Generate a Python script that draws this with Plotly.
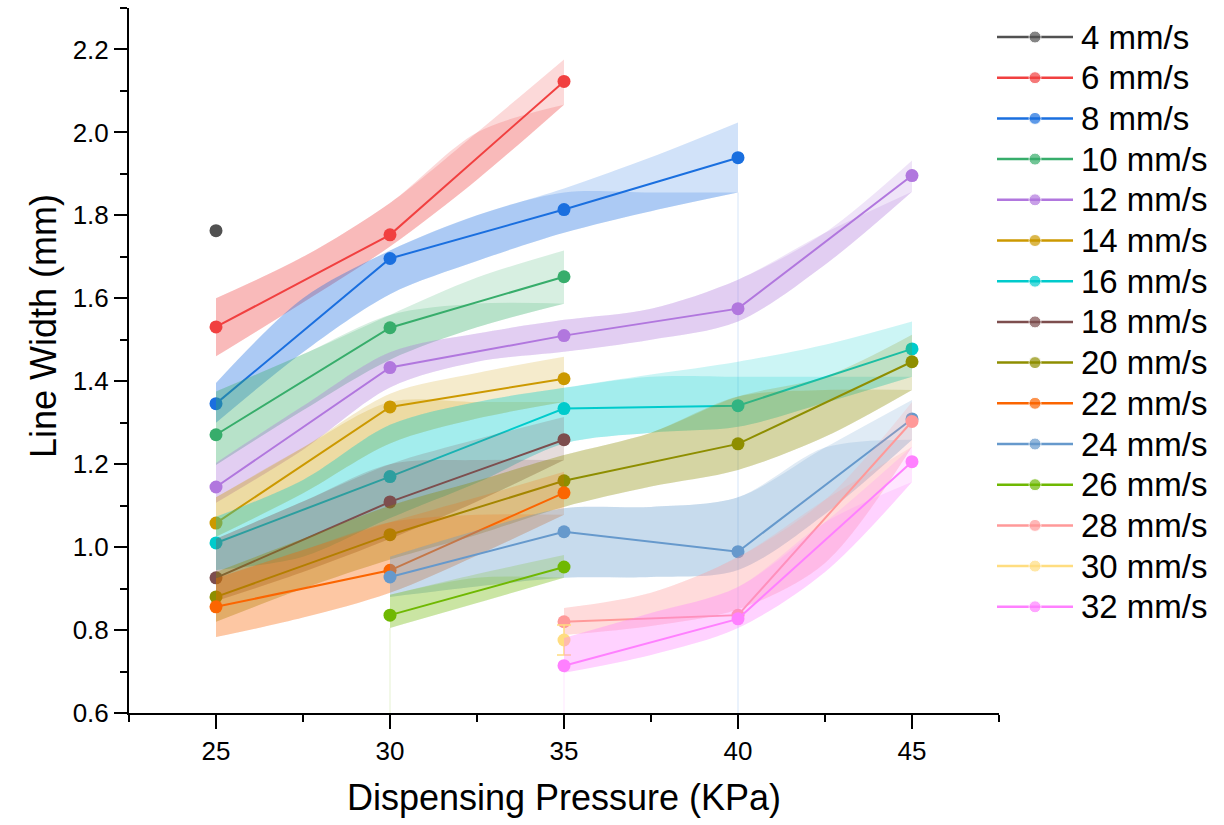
import numpy as np
import plotly.graph_objects as go

# ---- series labels and colours ----
SPEEDS = ["4 mm/s", "6 mm/s", "8 mm/s", "10 mm/s", "12 mm/s", "14 mm/s", "16 mm/s",
          "18 mm/s", "20 mm/s", "22 mm/s", "24 mm/s", "26 mm/s", "28 mm/s", "30 mm/s", "32 mm/s"]
COLORS = ["#515151", "#F14040", "#1A6FDF", "#37AD6B", "#B177DE", "#CC9900", "#00CBCC",
          "#7D4E4E", "#8E8E00", "#FB6501", "#6699CC", "#6FB802", "#FF9999", "#FFDD80", "#FF80FF"]

# ---- measured line widths (mm) vs dispensing pressure (KPa) ----
P4 = [25];                  W4 = [1.763]
P6 = [25, 30, 35];          W6 = [1.531, 1.753, 2.123]
P8 = [25, 30, 35, 40];      W8 = [1.346, 1.696, 1.814, 1.939]
P10 = [25, 30, 35];         W10 = [1.271, 1.529, 1.652]
P12 = [25, 30, 35, 40, 45]; W12 = [1.145, 1.433, 1.510, 1.575, 1.896]
P14 = [25, 30, 35];         W14 = [1.058, 1.338, 1.406]
P16 = [25, 30, 35, 40, 45]; W16 = [1.010, 1.170, 1.334, 1.341, 1.478]
P18 = [25, 30, 35];         W18 = [0.926, 1.109, 1.259]
P20 = [25, 30, 35, 40, 45]; W20 = [0.880, 1.030, 1.160, 1.249, 1.447]
P22 = [25, 30, 35];         W22 = [0.856, 0.944, 1.131]
P24 = [30, 35, 40, 45];     W24 = [0.928, 1.037, 0.989, 1.309]
P26 = [30, 35];             W26 = [0.836, 0.952]
P28 = [35, 40, 45];         W28 = [0.820, 0.836, 1.303]
P30 = [35];                 W30 = [0.776]; E30 = [0.036]
P32 = [35, 40, 45];         W32 = [0.714, 0.827, 1.206]

# ---- confidence bands (upper / lower bounds) ----
B6_X = [25, 27.5, 30, 32.5, 35]
B6_UP = [1.600, 1.700, 1.830, 2.000, 2.176]
B6_LO = [1.460, 1.590, 1.725, 1.886, 2.067]

B8_X = [25, 27.5, 30, 32.5, 35, 37.5, 40]
B8_UP = [1.396, 1.600, 1.715, 1.800, 1.865, 1.940, 2.024]
B8_LO = [1.300, 1.470, 1.610, 1.690, 1.758, 1.810, 1.855]

B10_X = [25, 27.5, 30, 32.5, 35]
B10_UP = [1.375, 1.465, 1.560, 1.650, 1.715]
B10_LO = [1.198, 1.330, 1.452, 1.530, 1.587]

B12_X = [25, 27.5, 30, 32.5, 35, 37.5, 40, 42.5, 45]
B12_UP = [1.203, 1.340, 1.470, 1.515, 1.548, 1.575, 1.645, 1.758, 1.932]
B12_LO = [1.107, 1.235, 1.385, 1.447, 1.471, 1.500, 1.544, 1.681, 1.857]

B14_X = [25, 27.5, 30, 32.5, 35]
B14_UP = [1.120, 1.240, 1.370, 1.420, 1.459]
B14_LO = [1.025, 1.130, 1.250, 1.310, 1.350]

B16_X = [25, 27.5, 30, 32.5, 35, 37.5, 40, 42.5, 45]
B16_UP = [1.073, 1.162, 1.295, 1.350, 1.384, 1.416, 1.447, 1.488, 1.544]
B16_LO = [0.945, 0.977, 1.070, 1.155, 1.250, 1.276, 1.290, 1.348, 1.411]

B18_X = [25, 27.5, 30, 32.5, 35]
B18_UP = [1.020, 1.110, 1.200, 1.260, 1.314]
B18_LO = [0.870, 0.940, 1.020, 1.110, 1.210]

B20_X = [25, 27.5, 30, 32.5, 35, 37.5, 40, 42.5, 45]
B20_UP = [0.940, 1.020, 1.100, 1.160, 1.222, 1.276, 1.363, 1.411, 1.512]
B20_LO = [0.820, 0.900, 0.970, 1.030, 1.097, 1.146, 1.186, 1.266, 1.379]

B22_X = [25, 27.5, 30, 32.5, 35]
B22_UP = [0.925, 0.993, 1.060, 1.120, 1.182]
B22_LO = [0.783, 0.830, 0.890, 0.980, 1.078]

B24_X = [30, 32.5, 35, 37.5, 40, 42.5, 45]
B24_UP = [0.977, 1.040, 1.094, 1.097, 1.120, 1.240, 1.355]
B24_LO = [0.880, 0.905, 0.926, 0.928, 0.945, 1.080, 1.259]

B26_X = [30, 32.5, 35]
B26_UP = [0.885, 0.935, 0.981]
B26_LO = [0.805, 0.865, 0.926]

B28_X = [35, 37.5, 40, 42.5, 45]
B28_UP = [0.853, 0.890, 0.976, 1.114, 1.350]
B28_LO = [0.788, 0.810, 0.850, 0.962, 1.242]

B32_X = [35, 37.5, 40, 42.5, 45]
B32_UP = [0.781, 0.841, 0.904, 1.060, 1.242]
B32_LO = [0.697, 0.740, 0.805, 0.940, 1.157]

X_RANGE = [22.5, 47.5]
Y_RANGE = [0.6, 2.3]

FONT = "Arial, 'Liberation Sans', sans-serif"


def rgba(hex_color, alpha):
    h = hex_color.lstrip("#")
    r, g, b = int(h[0:2], 16), int(h[2:4], 16), int(h[4:6], 16)
    return f"rgba({r},{g},{b},{alpha})"


SERIES = [
    (P4, W4, None, None, None, None),
    (P6, W6, B6_X, B6_UP, B6_LO, None),
    (P8, W8, B8_X, B8_UP, B8_LO, None),
    (P10, W10, B10_X, B10_UP, B10_LO, None),
    (P12, W12, B12_X, B12_UP, B12_LO, None),
    (P14, W14, B14_X, B14_UP, B14_LO, None),
    (P16, W16, B16_X, B16_UP, B16_LO, None),
    (P18, W18, B18_X, B18_UP, B18_LO, None),
    (P20, W20, B20_X, B20_UP, B20_LO, None),
    (P22, W22, B22_X, B22_UP, B22_LO, None),
    (P24, W24, B24_X, B24_UP, B24_LO, None),
    (P26, W26, B26_X, B26_UP, B26_LO, None),
    (P28, W28, B28_X, B28_UP, B28_LO, None),
    (P30, W30, None, None, None, E30),
    (P32, W32, B32_X, B32_UP, B32_LO, None),
]

fig = go.Figure()

# faint drop lines left by the band fills
for bx, blo, idx in [(B26_X[0], B26_LO[0], 11), (B32_X[0], B32_LO[0], 14), (B8_X[-1], B8_LO[-1], 2)]:
    fig.add_trace(go.Scatter(x=[bx, bx], y=[Y_RANGE[0], blo], mode="lines",
                             line=dict(color=rgba(COLORS[idx], 0.18), width=1),
                             hoverinfo="skip", showlegend=False))

spline = dict(width=0, shape="spline", smoothing=0.9)

for i, (px, wy, bx, bup, blo, err) in enumerate(SERIES):
    col = COLORS[i]
    if bx is not None:
        # full band (light layer)
        fig.add_trace(go.Scatter(x=bx, y=blo, mode="lines", line=spline,
                                 hoverinfo="skip", showlegend=False))
        fig.add_trace(go.Scatter(x=bx, y=bup, mode="lines", line=spline, fill="tonexty",
                                 fillcolor=rgba(col, 0.2), hoverinfo="skip", showlegend=False))
        # second layer, capped at the band's final lower bound
        capped = np.minimum(np.array(bup), blo[-1])
        fig.add_trace(go.Scatter(x=bx, y=blo, mode="lines", line=spline,
                                 hoverinfo="skip", showlegend=False))
        fig.add_trace(go.Scatter(x=bx, y=capped, mode="lines", line=spline, fill="tonexty",
                                 fillcolor=rgba(col, 0.2), hoverinfo="skip", showlegend=False))
    error_y = None
    if err is not None:
        error_y = dict(type="data", array=err, visible=True, color=col, thickness=1.5, width=7)
    fig.add_trace(go.Scatter(x=px, y=wy, mode="lines+markers", name=SPEEDS[i],
                             line=dict(color=col, width=2),
                             marker=dict(color=col, size=13),
                             error_y=error_y, showlegend=False))

# ---- legend drawn on its own pixel-scaled axes ----
LEG_Y0, LEG_DY = 37, 40.7
for i, name in enumerate(SPEEDS):
    ly = LEG_Y0 + LEG_DY * i
    fig.add_trace(go.Scatter(x=[997, 1035, 1073], y=[ly, ly, ly], mode="lines+markers",
                             line=dict(color=COLORS[i], width=2.5),
                             marker=dict(color=COLORS[i], size=[0, 12, 0]),
                             xaxis="x2", yaxis="y2", hoverinfo="skip", showlegend=False))
    fig.add_annotation(x=1079, y=ly, xref="x2", yref="y2", text=name, showarrow=False,
                       xanchor="left", yanchor="middle",
                       font=dict(family=FONT, size=33, color="black"))

W, H = 1224, 825
ML, MR, MT, MB = 129, 14, 8, 112
pw = W - ML - MR
ph = H - MT - MB

# y-axis title placed as rotated text, centred slightly above mid-height
fig.add_annotation(x=(43 - ML) / pw, y=(H - MB - 326) / ph, xref="paper", yref="paper",
                   text="Line Width (mm)", textangle=-90, showarrow=False,
                   xanchor="center", yanchor="middle",
                   font=dict(family=FONT, size=36, color="black"))

fig.update_layout(
    width=W, height=H,
    margin=dict(l=ML, r=MR, t=MT, b=MB),
    paper_bgcolor="white", plot_bgcolor="white",
    showlegend=False,
    font=dict(family=FONT, color="black"),
    xaxis=dict(
        domain=[0, 870 / pw], range=X_RANGE, tickmode="linear", tick0=25, dtick=5,
        showline=True, linecolor="black", linewidth=2, showgrid=False, zeroline=False,
        ticks="outside", ticklen=14, tickwidth=2, tickcolor="black",
        minor=dict(ticks="outside", ticklen=7, tickwidth=2, tickcolor="black",
                   tick0=22.5, dtick=2.5, showgrid=False),
        tickfont=dict(family=FONT, size=26),
        title=dict(text="Dispensing Pressure (KPa)", font=dict(family=FONT, size=36), standoff=20),
    ),
    yaxis=dict(
        domain=[0, 1], range=Y_RANGE, tickmode="linear", tick0=0.6, dtick=0.2,
        tickformat=".1f",
        showline=True, linecolor="black", linewidth=2, showgrid=False, zeroline=False,
        ticks="outside", ticklen=13, tickwidth=2, tickcolor="black",
        minor=dict(ticks="outside", ticklen=7, tickwidth=2, tickcolor="black",
                   tick0=0.6, dtick=0.1, showgrid=False),
        tickfont=dict(family=FONT, size=26),
    ),
    xaxis2=dict(domain=[(990 - ML) / pw, 1], range=[990, W - MR], visible=False,
                anchor="y2", fixedrange=True),
    yaxis2=dict(domain=[0, 1], range=[H - MB, MT], visible=False, anchor="x2", fixedrange=True),
)

fig.write_html("out.html")
